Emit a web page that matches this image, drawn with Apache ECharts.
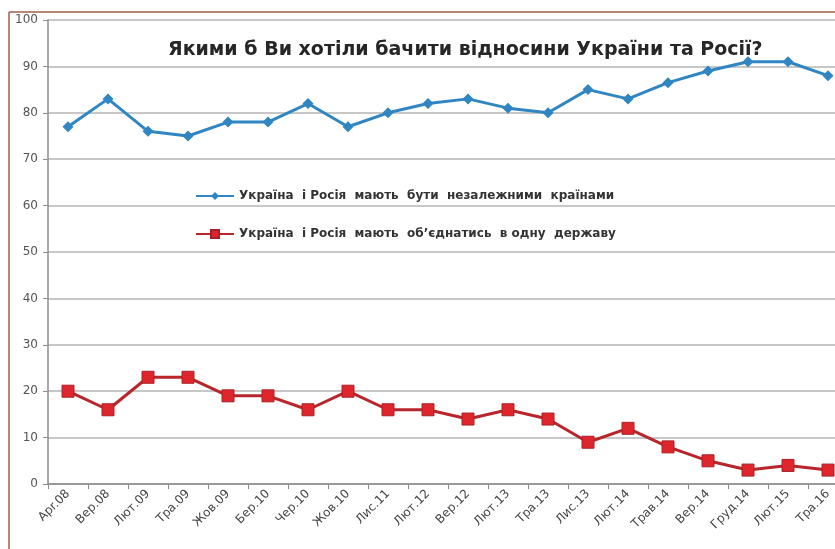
<!doctype html>
<html>
<head>
<meta charset="utf-8">
<title>Україна і Росія</title>
<script src="https://cdn.jsdelivr.net/npm/echarts@6/dist/echarts.min.js"></script>
<style>
  html, body { margin: 0; padding: 0; background: #fff; }
  #main { width: 835px; height: 549px; }
</style>
</head>
<body>
<div id="main"></div>
<script>
// місяці опитувань
var months = ['Apr.08', 'Вер.08', 'Лют.09', 'Тра.09', 'Жов.09', 'Бер.10', 'Чер.10', 'Жов.10', 'Лис.11', 'Лют.12',
              'Вер.12', 'Лют.13', 'Тра.13', 'Лис.13', 'Лют.14', 'Трав.14', 'Вер.14', 'Груд.14', 'Лют.15', 'Тра.16'];
// незалежні країни, %
var independent = [77, 83, 76, 75, 78, 78, 82, 77, 80, 82, 83, 81, 80, 85, 83, 86.5, 89, 91, 91, 88];
// одна держава, %
var unite = [20, 16, 23, 23, 19, 19, 16, 20, 16, 16, 14, 16, 14, 9, 12, 8, 5, 3, 4, 3];

var nameA = 'Україна  і Росія  мають  бути  незалежними  країнами';
var nameB = 'Україна  і Росія  мають  об’єднатись  в одну  державу';

var myChart = echarts.init(document.getElementById('main'));

var option = {
    backgroundColor: '#fff',
    animation: false,
    title: {
        text: 'Якими б Ви хотіли бачити відносини України та Росії?',
        left: 163,
        top: 36,
        textStyle: { fontFamily: 'DejaVu Sans', fontSize: 19, fontWeight: 'bold', color: '#262626' }
    },
    legend: {
        orient: 'vertical',
        left: 190,
        top: 185,
        itemGap: 26,
        itemWidth: 38,
        itemHeight: 10,
        textStyle: { fontFamily: 'DejaVu Sans', fontSize: 12, fontWeight: 'bold', color: '#333' },
        data: [nameA, nameB]
    },
    graphic: [
        { type: 'line', shape: { x1: 9, y1: 12, x2: 835, y2: 12 }, style: { stroke: '#a0604a', lineWidth: 1.5 } },
        { type: 'line', shape: { x1: 9, y1: 12, x2: 9, y2: 549 }, style: { stroke: '#a0604a', lineWidth: 1.5 } }
    ],
    // графік виходить за правий край картинки
    grid: { left: 48, right: -13, top: 20, bottom: 65, outerBoundsMode: 'none' },
    xAxis: {
        type: 'category',
        data: months,
        boundaryGap: true,
        axisLine: { lineStyle: { color: '#8c8c8c', width: 1.5 } },
        axisTick: { show: true, length: 5, lineStyle: { color: '#8c8c8c' } },
        axisLabel: { rotate: 45, interval: 0, fontFamily: 'DejaVu Sans', fontSize: 12, color: '#444', margin: 8 }
    },
    yAxis: {
        type: 'value',
        min: 0,
        max: 100,
        interval: 10,
        axisLine: { show: true, lineStyle: { color: '#8c8c8c', width: 1.5 } },
        axisTick: { show: true, length: 5, lineStyle: { color: '#8c8c8c' } },
        axisLabel: { fontFamily: 'DejaVu Sans', fontSize: 12, color: '#555', margin: 10 },
        splitLine: { lineStyle: { color: '#b4b4b4', width: 1.5 } }
    },
    series: [
        {
            name: nameA,
            type: 'line',
            data: independent,
            symbol: 'diamond',
            symbolSize: 11,
            itemStyle: { color: '#2f86c3' },
            lineStyle: { color: '#2f86c3', width: 3 }
        },
        {
            name: nameB,
            type: 'line',
            data: unite,
            symbol: 'rect',
            symbolSize: 12,
            itemStyle: { color: '#e0262d', borderColor: '#a82027', borderWidth: 1 },
            lineStyle: { color: '#b8262c', width: 3 }
        }
    ]
};

myChart.setOption(option);
</script>
</body>
</html>
